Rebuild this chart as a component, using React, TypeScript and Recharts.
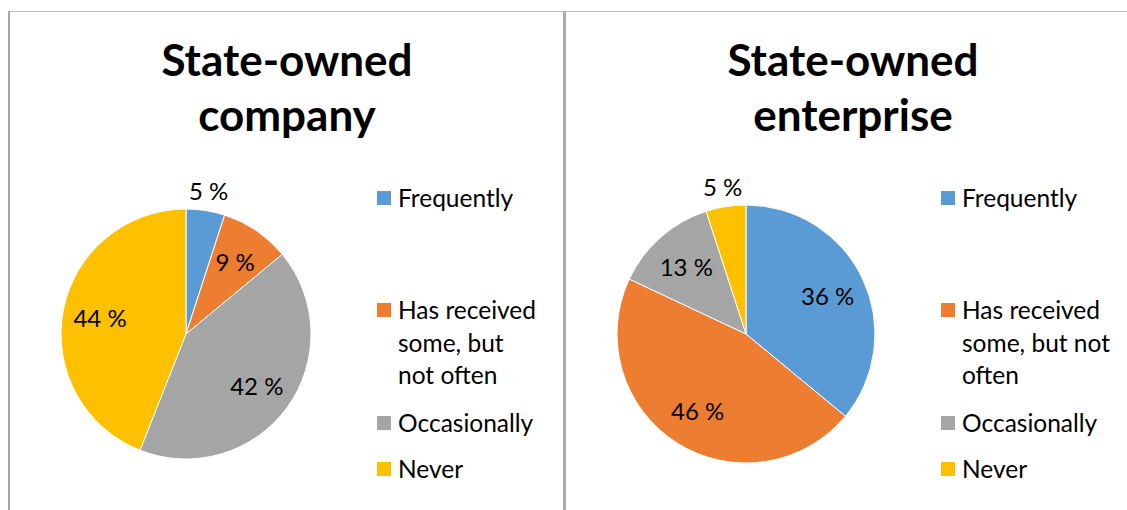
import { PieChart, Pie, Cell, Legend } from "recharts"

const categories = ["Frequently", "Has received some, but not often", "Occasionally", "Never"]
const companyValues = [5, 9, 42, 44]
const enterpriseValues = [36, 46, 13, 5]
const colors = ["#5B9BD5", "#ED7D31", "#A5A5A5", "#FFC000"]
const companyTitle = ["State-owned", "company"]
const enterpriseTitle = ["State-owned", "enterprise"]

const FONT = "Lato, 'Open Sans', sans-serif"
const RAD = Math.PI / 180
// top of each legend row, page y
const legendTops = [182, 294, 407, 453]

const renderLabel = (props: any) => {
  const { cx, cy, midAngle, outerRadius, value, percent } = props
  const f = percent < 0.06 ? 1.16 : 0.7
  const x = cx + outerRadius * f * Math.cos(-midAngle * RAD)
  const y = cy + outerRadius * f * Math.sin(-midAngle * RAD)
  return (
    <text x={x} y={y} textAnchor="middle" dominantBaseline="central" fill="#000" fontSize={24} fontFamily={FONT}>
      {`${value} %`}
    </text>
  )
}

const makeLegend = (textWidth: number) => (props: any) => {
  const items = [...(props.payload || [])].sort(
    (a: any, b: any) => categories.indexOf(a.value) - categories.indexOf(b.value)
  )
  return (
    <div style={{ position: "relative", width: textWidth + 22, height: 510, fontFamily: FONT }}>
      {items.map((p: any, i: number) => (
        <div key={i} style={{ position: "absolute", top: legendTops[i], left: 0, display: "flex" }}>
          <span
            style={{
              width: 14,
              height: 14,
              background: colors[categories.indexOf(p.value)],
              marginTop: 9,
              marginRight: 7,
              flex: "none",
            }}
          />
          <span style={{ width: textWidth, lineHeight: "32.5px", fontSize: 24.5, color: "#000" }}>{p.value}</span>
        </div>
      ))}
    </div>
  )
}

function PiePanel({
  title,
  values,
  left,
  width,
  cx,
  radius,
  titleCenter,
  legendLeft,
  legendTextWidth,
}: {
  title: string[]
  values: number[]
  left: number
  width: number
  cx: number
  radius: number
  titleCenter: number
  legendLeft: number
  legendTextWidth: number
}) {
  const data = categories.map((name, i) => ({ name, value: values[i] }))
  return (
    <div style={{ position: "absolute", left, top: 0, width, height: 510 }}>
      <div
        style={{
          position: "absolute",
          left: titleCenter - 200,
          width: 400,
          top: 32,
          textAlign: "center",
          fontFamily: FONT,
          fontWeight: 700,
          fontSize: 44,
          lineHeight: "55px",
          color: "#000",
        }}
      >
        {title.map((t, i) => (
          <div key={i}>{t}</div>
        ))}
      </div>
      <PieChart width={width} height={510} margin={{ top: 0, right: 0, bottom: 0, left: 0 }}>
        <Pie
          data={data}
          dataKey="value"
          nameKey="name"
          cx={cx}
          cy={334}
          outerRadius={radius}
          startAngle={90}
          endAngle={-270}
          stroke="#fff"
          strokeWidth={1}
          label={renderLabel}
          labelLine={false}
          isAnimationActive={false}
        >
          {data.map((_, i) => (
            <Cell key={i} fill={colors[i]} />
          ))}
        </Pie>
        <Legend
          layout="vertical"
          align="right"
          verticalAlign="top"
          itemSorter={null}
          content={makeLegend(legendTextWidth)}
          wrapperStyle={{ left: legendLeft, top: 0, right: "auto" }}
        />
      </PieChart>
    </div>
  )
}

export default function App() {
  return (
    <div style={{ position: "absolute", left: 0, top: 0, width: 1127, height: 510, background: "#fff", overflow: "hidden" }}>
      <div style={{ position: "absolute", left: 8, top: 11, width: 1119, height: 1, background: "#bfbfbf" }} />
      <div style={{ position: "absolute", left: 8, top: 11, width: 2, height: 499, background: "#a6a6a6" }} />
      <div style={{ position: "absolute", left: 563, top: 11, width: 3, height: 499, background: "#adadad" }} />
      <PiePanel
        title={companyTitle}
        values={companyValues}
        left={10}
        width={553}
        cx={176}
        radius={125}
        titleCenter={277}
        legendLeft={367}
        legendTextWidth={145}
      />
      <PiePanel
        title={enterpriseTitle}
        values={enterpriseValues}
        left={566}
        width={561}
        cx={180}
        radius={129}
        titleCenter={287}
        legendLeft={375}
        legendTextWidth={172}
      />
    </div>
  )
}
